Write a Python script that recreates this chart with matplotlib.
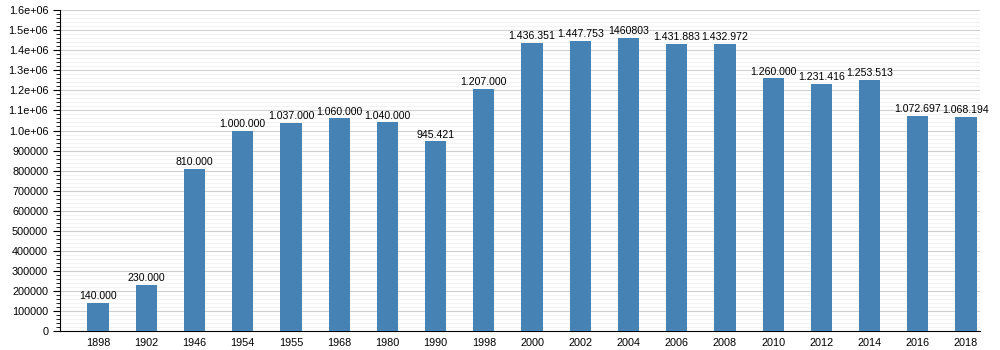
import matplotlib.pyplot as plt
from matplotlib.ticker import MultipleLocator, FuncFormatter

years = ['1898', '1902', '1946', '1954', '1955', '1968', '1980', '1990', '1998', '2000',
         '2002', '2004', '2006', '2008', '2010', '2012', '2014', '2016', '2018']
population = [140000, 230000, 810000, 1000000, 1037000, 1060000, 1040000, 945421, 1207000, 1436351,
              1447753, 1460803, 1431883, 1432972, 1260000, 1231416, 1253513, 1072697, 1068194]
labels = ['140.000', '230.000', '810.000', '1.000.000', '1.037.000', '1.060.000', '1.040.000',
          '945.421', '1.207.000', '1.436.351', '1.447.753', '1460803', '1.431.883', '1.432.972',
          '1.260.000', '1.231.416', '1.253.513', '1.072.697', '1.068.194']

plt.rcParams['font.family'] = ['Liberation Sans', 'DejaVu Sans']

fig = plt.figure(figsize=(10, 3.5), dpi=100)
ax = fig.add_axes([0.06, 0.054, 0.92, 0.917])

x = range(len(years))
ax.bar(x, population, width=0.44, color='#4682b4', zorder=3)
for i in x:
    ax.text(i, population[i] + 9000, labels[i], ha='center', va='bottom', fontsize=7.6, zorder=4)

ax.set_xlim(-0.79, 18.29)
ax.set_ylim(0, 1600000)
ax.set_xticks(list(x))
ax.set_xticklabels(years)

ax.yaxis.set_major_locator(MultipleLocator(100000))
ax.yaxis.set_minor_locator(MultipleLocator(20000))

def fmt(v, pos):
    if v >= 1000000:
        return ('%.1fe+06' % (v / 1e6))
    return '%d' % round(v)

ax.yaxis.set_major_formatter(FuncFormatter(fmt))
ax.grid(which='major', axis='y', color='#d0d0d0', linewidth=0.8, zorder=0)
ax.grid(which='minor', axis='y', color='#f3f3f3', linewidth=0.8, zorder=0)

for s in ['top', 'right']:
    ax.spines[s].set_visible(False)
ax.tick_params(axis='y', which='major', length=5, labelsize=7.8, direction='out')
ax.tick_params(axis='y', which='minor', length=3)
ax.tick_params(axis='x', length=0, labelsize=7.8, pad=5)

fig.savefig('out.png')
